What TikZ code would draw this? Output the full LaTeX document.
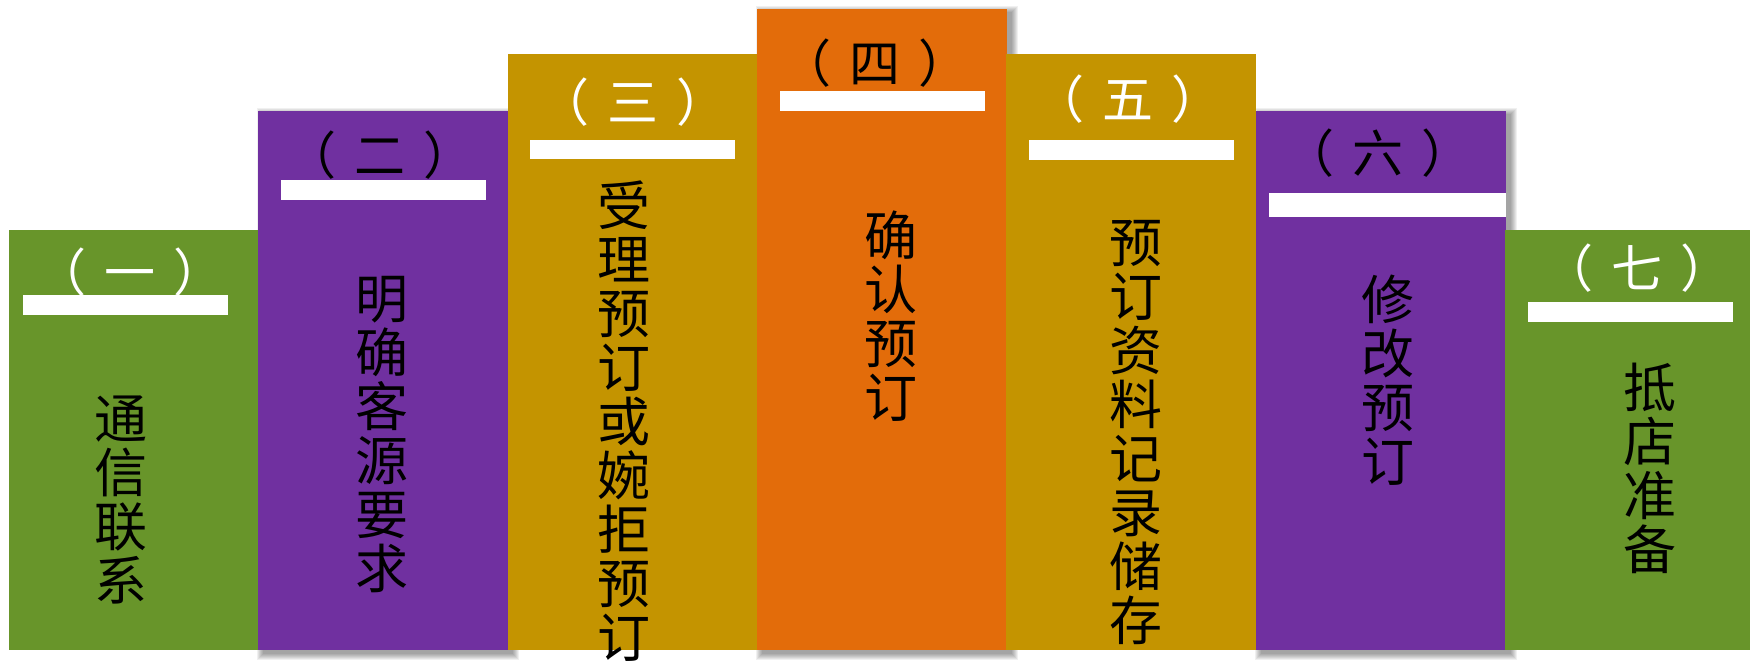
\documentclass[tikz,border=0pt]{standalone}
\usepackage{fontspec}
\newfontfamily\cjk{Noto Sans CJK SC}
\definecolor{cgreen}{RGB}{104,149,42}
\definecolor{cpurple}{RGB}{112,48,160}
\definecolor{cgold}{RGB}{196,148,0}
\definecolor{corange}{RGB}{227,108,10}
\tikzset{
  headw/.style={font=\cjk\fontsize{25.5pt}{25.5pt}\selectfont, text=white, inner sep=0pt},
  headb/.style={font=\cjk\fontsize{25.5pt}{25.5pt}\selectfont, text=black, inner sep=0pt},
  vtext/.style={font=\cjk\fontsize{26.5pt}{27pt}\selectfont, text=black, align=center, inner sep=0pt},
  bar/.style={fill=white},
}
\newcommand{\hd}[1]{（\hspace{9pt}#1\hspace{9pt}）}
\newcommand{\colshadow}[4]{%
  \foreach \i in {0,...,6} {
    \fill[black, opacity=0.06] ({#1+5-\i},{#2+3-\i}) rectangle ({#3+5+\i},{#4+4+\i});
  }}
\begin{document}
\begin{tikzpicture}[x=0.5pt,y=-0.5pt]
\useasboundingbox (0,0) rectangle (1750,666);
\fill[white] (0,0) rectangle (1750,666);
% shadows (behind all columns)
\colshadow{258}{111}{508}{650}
\colshadow{757}{9}{1007}{650}
\colshadow{1256}{111}{1506}{650}
% columns
\fill[cgreen]  (9,230)    rectangle (258,650);
\fill[cpurple] (258,111)  rectangle (508,650);
\fill[cgold]   (508,54)   rectangle (757,650);
\fill[corange] (757,9)    rectangle (1007,650);
\fill[cgold]   (1006,54)  rectangle (1256,650);
\fill[cpurple] (1256,111) rectangle (1506,650);
\fill[cgreen]  (1505,230) rectangle (1750,650);
% white bars
\fill[bar] (23,295)   rectangle (228,315);
\fill[bar] (281,180)  rectangle (486,200);
\fill[bar] (530,140)  rectangle (735,159);
\fill[bar] (780,91)   rectangle (985,111);
\fill[bar] (1029,140) rectangle (1234,160);
\fill[bar] (1269,193) rectangle (1506,217);
\fill[bar] (1528,302) rectangle (1733,322);
% headings
\node[headw] (h1) at (130,272) {\hd{一}};
\node[headb] (h2) at (380,155) {\hd{二}};
\node[headw] (h3) at (633,102) {\hd{三}};
\node[headb] (h4) at (875,63)  {\hd{四}};
\node[headw] (h5) at (1128,99) {\hd{五}};
\node[headb] (h6) at (1378,153) {\hd{六}};
\node[headw] (h7) at (1637,268) {\hd{七}};
% vertical texts
\node[vtext] (t1) at (121,500)   {通\\信\\联\\系};
\node[vtext] (t2) at (382,435)   {明\\确\\客\\源\\要\\求};
\node[vtext] (t3) at (624,421.5) {受\\理\\预\\订\\或\\婉\\拒\\预\\订};
\node[vtext] (t4) at (891,316)   {确\\认\\预\\订};
\node[vtext] (t5) at (1136,432)  {预\\订\\资\\料\\记\\录\\储\\存};
\node[vtext] (t6) at (1388,380)  {修\\改\\预\\订};
\node[vtext] (t7) at (1650,468)  {抵\\店\\准\\备};
\end{tikzpicture}
\end{document}
